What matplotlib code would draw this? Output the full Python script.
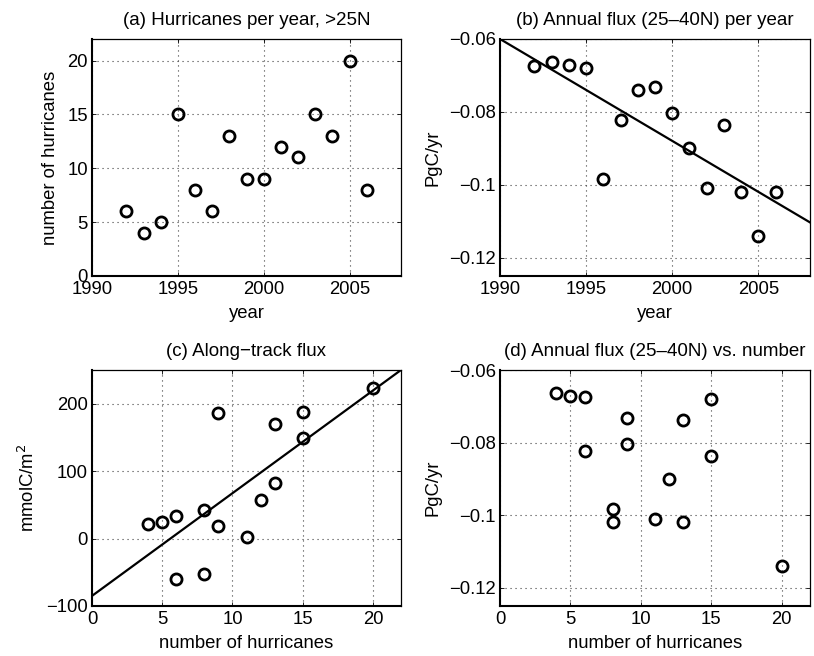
import matplotlib
matplotlib.use("Agg")
import matplotlib.pyplot as plt

plt.rcParams['font.family'] = ['Liberation Sans', 'DejaVu Sans']
plt.rcParams['font.size'] = 13

# Data
years = [1992, 1993, 1994, 1995, 1996, 1997, 1998, 1999, 2000, 2001, 2002, 2003, 2004, 2005, 2006]
n_hurricanes = [6, 4, 5, 15, 8, 6, 13, 9, 9, 12, 11, 15, 13, 20, 8]
annual_flux = [-0.0673, -0.0662, -0.0671, -0.0680, -0.0983, -0.0823, -0.0739, -0.0732,
               -0.0804, -0.0899, -0.1010, -0.0837, -0.1020, -0.1139, -0.1020]

track_n = [4, 5, 6, 6, 8, 8, 9, 9, 11, 12, 13, 13, 15, 15, 20]
track_flux = [21, 24, 34, -60, 42, -52, 186, 19, 3, 57, 170, 83, 188, 149, 223]

trend_b_x = [1990, 2008]
trend_b_y = [-0.0600, -0.1103]
trend_c_x = [0, 22]
trend_c_y = [-85, 250]

year_ticks = [1990, 1995, 2000, 2005]
count_ticks = [0, 5, 10, 15, 20]
flux_ticks = [-0.12, -0.10, -0.08, -0.06]
flux_labels = ['\u22120.12', '\u22120.1', '\u22120.08', '\u22120.06']
track_ticks = [-100, 0, 100, 200]
track_labels = ['\u2212100', '0', '100', '200']

W, H = 814, 656
fig = plt.figure(figsize=(W / 100, H / 100), dpi=100)

def add_ax(l, r, t, b):
    return fig.add_axes([l / W, 1 - b / H, (r - l) / W, (b - t) / H])

axa = add_ax(92, 401, 39, 276)
axb = add_ax(500, 810, 39, 276)
axc = add_ax(92, 401, 370, 606)
axd = add_ax(500, 810, 370, 606)

mk = dict(linestyle='none', marker='o', markersize=8.0, markerfacecolor='none',
          markeredgecolor='black', markeredgewidth=2.0, clip_on=False, zorder=3)

TS = 13.3
LS = 13.3
TT = 13.5

def style(ax):
    ax.spines['left'].set_linewidth(1.5)
    ax.spines['bottom'].set_linewidth(1.5)
    ax.spines['top'].set_linewidth(0.9)
    ax.spines['right'].set_linewidth(0.9)
    ax.tick_params(direction='in', length=3, width=0.6, top=True, right=True,
                   labelsize=TS)
    ax.tick_params(axis='x', pad=3.5)
    ax.tick_params(axis='y', pad=3)
    ax.grid(True, linestyle=(0, (1, 3.5)), color='0.25', linewidth=0.8)
    ax.set_axisbelow(True)

# (a)
axa.plot(years, n_hurricanes, **mk)
axa.set_xlim(1990, 2008)
axa.set_ylim(0, 22)
axa.set_xticks(year_ticks)
axa.set_yticks(count_ticks)
axa.set_xlabel('year', fontsize=LS, labelpad=5)
axa.set_ylabel('number of hurricanes', fontsize=LS, labelpad=6)
axa.set_title('(a) Hurricanes per year, >25N', fontsize=TT, pad=10)
style(axa)

# (b)
axb.plot(trend_b_x, trend_b_y, color='black', linewidth=1.6, zorder=2)
axb.plot(years, annual_flux, **mk)
axb.set_xlim(1990, 2008)
axb.set_ylim(-0.125, -0.06)
axb.set_xticks(year_ticks)
axb.set_yticks(flux_ticks)
axb.set_yticklabels(flux_labels)
axb.set_xlabel('year', fontsize=LS, labelpad=5)
axb.set_ylabel('PgC/yr', fontsize=LS, labelpad=5)
axb.set_title('(b) Annual flux (25\u201340N) per year', fontsize=TT, pad=10)
style(axb)

# (c)
axc.plot(trend_c_x, trend_c_y, color='black', linewidth=1.6, zorder=2)
axc.plot(track_n, track_flux, **mk)
axc.set_xlim(0, 22)
axc.set_ylim(-100, 250)
axc.set_xticks(count_ticks)
axc.set_yticks(track_ticks)
axc.set_yticklabels(track_labels)
axc.set_xlabel('number of hurricanes', fontsize=LS, labelpad=5)
axc.set_ylabel('mmolC/m$^2$', fontsize=LS, labelpad=6)
axc.set_title('(c) Along\u2212track flux', fontsize=TT, pad=10)
style(axc)

# (d)
axd.plot(n_hurricanes, annual_flux, **mk)
axd.set_xlim(0, 22)
axd.set_ylim(-0.125, -0.06)
axd.set_xticks(count_ticks)
axd.set_yticks(flux_ticks)
axd.set_yticklabels(flux_labels)
axd.set_xlabel('number of hurricanes', fontsize=LS, labelpad=5)
axd.set_ylabel('PgC/yr', fontsize=LS, labelpad=5)
axd.set_title('(d) Annual flux (25\u201340N) vs. number', fontsize=TT, pad=10)
style(axd)

fig.savefig('out.png', dpi=100)
